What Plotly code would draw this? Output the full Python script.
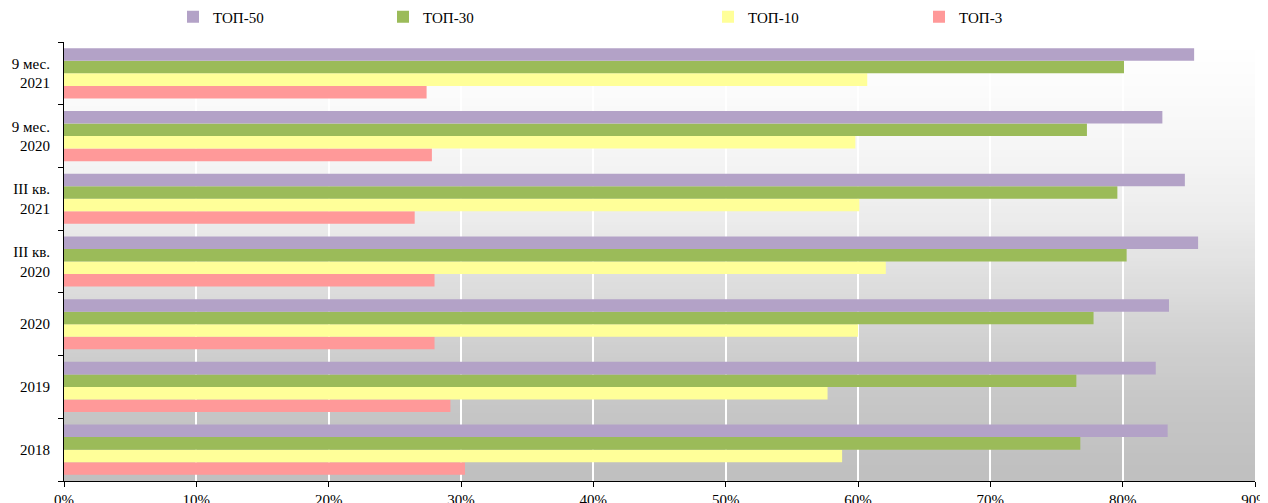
import plotly.graph_objects as go

# Data (bottom to top as drawn)
categories = ["2018", "2019", "2020", "III кв. 2020", "III кв. 2021", "9 мес. 2020", "9 мес. 2021"]
tick_labels = ["2018", "2019", "2020", "III кв.<br>2020", "III кв.<br>2021", "9 мес.<br>2020", "9 мес.<br>2021"]
top50 = [83.4, 82.5, 83.5, 85.7, 84.7, 83.0, 85.4]
top30 = [76.8, 76.5, 77.8, 80.3, 79.6, 77.3, 80.1]
top10 = [58.8, 57.7, 60.0, 62.1, 60.1, 59.8, 60.7]
top3 = [30.3, 29.2, 28.0, 28.0, 26.5, 27.8, 27.4]
x_ticks = [0, 10, 20, 30, 40, 50, 60, 70, 80, 90]
x_tick_labels = ["0%", "10%", "20%", "30%", "40%", "50%", "60%", "70%", "80%", "90%"]

FONT = "Liberation Serif, Times New Roman, serif"
W, H = 1268, 503
OFF = 8  # page body margin offset
ML, MR, MT, MB = 64 - OFF, 21, 42 - OFF, 30

series = [
    ("ТОП-3", top3, "#FF9999", "legend4", 959),
    ("ТОП-10", top10, "#FFFF99", "legend3", 748),
    ("ТОП-30", top30, "#9BBB59", "legend2", 423),
    ("ТОП-50", top50, "#B3A2C7", "legend", 213),
]

fig = go.Figure()
for name, vals, color, lg, _ in series:
    fig.add_trace(go.Bar(
        y=categories, x=vals, name=name, orientation="h",
        marker=dict(color=color, line=dict(width=0)),
        legend=lg,
    ))

# vertical gradient background (white at top -> gray at bottom)
stops_t = [0, 0.114, 0.257, 0.40, 0.544, 0.686, 0.83, 0.975, 1.0]
stops_c = [255, 251, 245, 236, 222, 208, 198, 192, 192]


def grad(t):
    for k in range(len(stops_t) - 1):
        if stops_t[k] <= t <= stops_t[k + 1]:
            f = (t - stops_t[k]) / (stops_t[k + 1] - stops_t[k])
            return stops_c[k] + f * (stops_c[k + 1] - stops_c[k])
    return stops_c[-1]


n = 110
shapes = []
for i in range(n):
    t = (i + 0.5) / n
    c = int(round(grad(t)))
    shapes.append(dict(
        type="rect", xref="paper", yref="paper",
        x0=0, x1=1, y0=1 - (i + 1) / n - 0.002, y1=1 - i / n,
        fillcolor=f"rgb({c},{c},{c})", line=dict(width=0), layer="below",
    ))

legend_common = dict(
    orientation="h", yanchor="middle", xanchor="left",
    xref="container", yref="container",
    font=dict(family=FONT, size=15, color="#000"),
    bgcolor="rgba(0,0,0,0)", itemwidth=30,
)
legends = {}
for name, vals, color, lg, px in series:
    legends[lg] = dict(legend_common, x=(px - 40 - OFF) / W, y=1 - (17 - OFF) / H)

fig.update_layout(
    width=W, height=H,
    margin=dict(l=ML, r=MR, t=MT, b=MB, autoexpand=False),
    barmode="group", bargap=0.2, bargroupgap=0,
    paper_bgcolor="white", plot_bgcolor="white",
    font=dict(family=FONT, size=15, color="#000"),
    shapes=shapes,
    showlegend=True,
    **legends,
)
fig.update_xaxes(
    range=[0, 90], tickmode="array", tickvals=x_ticks, ticktext=x_tick_labels,
    showgrid=True, gridcolor="white", gridwidth=2,
    showline=True, linecolor="#000", linewidth=1,
    ticks="outside", ticklen=5, tickcolor="#000",
    zeroline=False, tickfont=dict(family=FONT, size=15, color="#000"),
)
fig.update_yaxes(
    categoryorder="array", categoryarray=categories,
    tickvals=categories, ticktext=tick_labels,
    tickson="boundaries",
    showgrid=False, showline=True, linecolor="#000", linewidth=1,
    ticks="outside", ticklen=5, tickcolor="#000",
    ticklabelstandoff=10,
    tickfont=dict(family=FONT, size=15, color="#000"),
)

fig.write_html("out.html")
